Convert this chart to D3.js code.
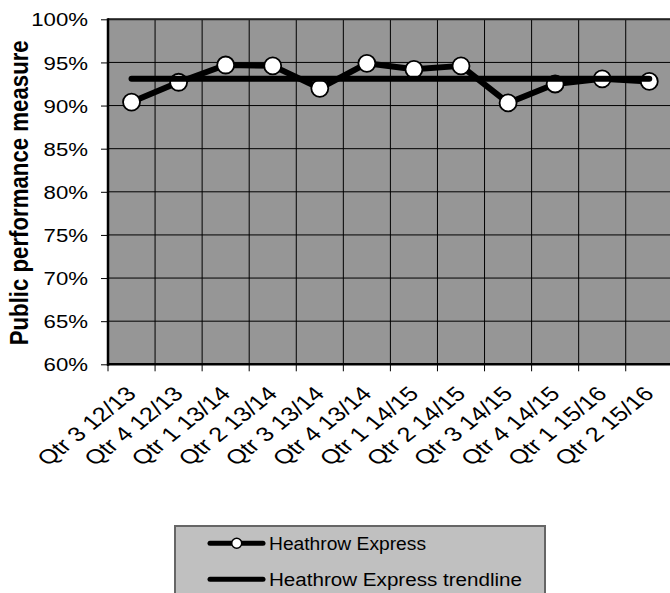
<!DOCTYPE html>
<html><head><meta charset="utf-8">
<script src="https://cdn.jsdelivr.net/npm/d3@7"></script>
<style>
html,body{margin:0;padding:0;background:#fff;}
text{font-family:Arial,"Liberation Sans",sans-serif;fill:#000;}
</style></head>
<body>
<svg id="chart" width="670" height="593"></svg>
<script>
const categories = ["Qtr 3 12/13","Qtr 4 12/13","Qtr 1 13/14","Qtr 2 13/14","Qtr 3 13/14","Qtr 4 13/14","Qtr 1 14/15","Qtr 2 14/15","Qtr 3 14/15","Qtr 4 14/15","Qtr 1 15/16","Qtr 2 15/16"];
const ppmValues = [0.904,0.927,0.947,0.946,0.920,0.949,0.942,0.946,0.903,0.925,0.931,0.928];
const trendValues = [0.931,0.931,0.931,0.931,0.931,0.931,0.931,0.931,0.931,0.931,0.931,0.931];
const yTicks = [0.60,0.65,0.70,0.75,0.80,0.85,0.90,0.95,1.00];
const seriesNames = ["Heathrow Express","Heathrow Express trendline"];

const svg = d3.select("#chart");
svg.append("rect").attr("width",670).attr("height",593).attr("fill","#fff");

const L = 108, R = 672.8, T = 19.3, B = 364.3;
const x = d3.scaleBand().domain(categories).range([L,R]).paddingInner(0).paddingOuter(0);
const y = d3.scaleLinear().domain([0.6,1.0]).range([B,T]);
const bw = x.bandwidth();
const cx = d => x(d) + bw/2;

// plot area
svg.append("rect").attr("x",L).attr("y",T).attr("width",R-L).attr("height",B-T).attr("fill","#969696");

// horizontal gridlines
svg.append("g").selectAll("line").data(yTicks).join("line")
  .attr("x1",L).attr("x2",R).attr("y1",d=>y(d)).attr("y2",d=>y(d))
  .attr("stroke","#000").attr("stroke-width",1);
// vertical gridlines at category boundaries
svg.append("g").selectAll("line").data(categories.slice(1)).join("line")
  .attr("x1",d=>x(d)).attr("x2",d=>x(d)).attr("y1",T).attr("y2",B)
  .attr("stroke","#000").attr("stroke-width",1);
// top border
svg.append("line").attr("x1",L).attr("x2",R).attr("y1",T).attr("y2",T).attr("stroke","#222").attr("stroke-width",2);

// y axis
const yAxis = d3.axisLeft(y).tickValues(yTicks).tickSize(7).tickPadding(12).tickFormat(d3.format(".0%"));
const gy = svg.append("g").attr("transform",`translate(${L},0)`).call(yAxis);
gy.select(".domain").remove();
gy.selectAll(".tick line").attr("stroke","#000").attr("stroke-width",1);
gy.selectAll(".tick text").attr("font-size",18.5).attr("font-family",'Arial,"Liberation Sans",sans-serif')
  .attr("x",0).attr("dy",null).attr("text-anchor","end")
  .attr("transform","translate(-20,6.6) scale(1.2,1)")
  .attr("fill","#000");
svg.append("line").attr("x1",L).attr("x2",L).attr("y1",T-1).attr("y2",B+1.5).attr("stroke","#000").attr("stroke-width",2.5);

// x axis ticks at boundaries
const bounds = categories.map(c=>x(c)).concat([x(categories[categories.length-1])+bw]);
svg.append("g").selectAll("line").data(bounds).join("line")
  .attr("x1",d=>d).attr("x2",d=>d).attr("y1",B).attr("y2",B+7)
  .attr("stroke","#000").attr("stroke-width",1);
svg.append("line").attr("x1",L-1).attr("x2",R).attr("y1",B).attr("y2",B).attr("stroke","#000").attr("stroke-width",2.5);

// x labels
svg.append("g").selectAll("text").data(categories).join("text")
  .attr("transform",d=>`translate(${cx(d)+6},395) scale(1.25,1) rotate(-45)`)
  .attr("text-anchor","end").attr("font-size",20.3).text(d=>d);

// y title
svg.append("text").attr("transform",`translate(28,${(T+B)/2+1}) scale(1.25,1) rotate(-90)`)
  .attr("text-anchor","middle").attr("font-size",21).attr("font-weight","bold")
  .attr("textLength",305).attr("lengthAdjust","spacingAndGlyphs")
  .text("Public performance measure");

// series line
const line = d3.line().x((d,i)=>cx(categories[i])).y(d=>y(d));
svg.append("path").datum(ppmValues).attr("d",line).attr("fill","none")
  .attr("stroke","#000").attr("stroke-width",6).attr("stroke-linejoin","round").attr("stroke-linecap","round");
svg.append("g").selectAll("circle").data(ppmValues).join("circle")
  .attr("cx",(d,i)=>cx(categories[i])).attr("cy",d=>y(d)).attr("r",8.5)
  .attr("fill","#fff").attr("stroke","#000").attr("stroke-width",1.8);
// trendline
svg.append("path").datum(trendValues).attr("d",line).attr("fill","none")
  .attr("stroke","#000").attr("stroke-width",6).attr("stroke-linecap","round");

// legend
const lg = svg.append("g");
lg.append("rect").attr("x",175).attr("y",526).attr("width",370).attr("height",80)
  .attr("fill","#c0c0c0").attr("stroke","#666").attr("stroke-width",2);
const ly = [543.3,579.3];
const lw = [157,253];
seriesNames.forEach((name,i)=>{
  lg.append("line").attr("x1",210).attr("x2",263).attr("y1",ly[i]).attr("y2",ly[i])
    .attr("stroke","#000").attr("stroke-width",5).attr("stroke-linecap","round");
  if(i===0){
    lg.append("circle").attr("cx",236.7).attr("cy",ly[i]).attr("r",5).attr("fill","#fff").attr("stroke","#000").attr("stroke-width",1.5);
  }
  lg.append("text").attr("x",269).attr("y",ly[i]+6.5)
    .attr("font-size",18).attr("textLength",lw[i]).attr("lengthAdjust","spacingAndGlyphs").text(name);
});
</script>
</body></html>
